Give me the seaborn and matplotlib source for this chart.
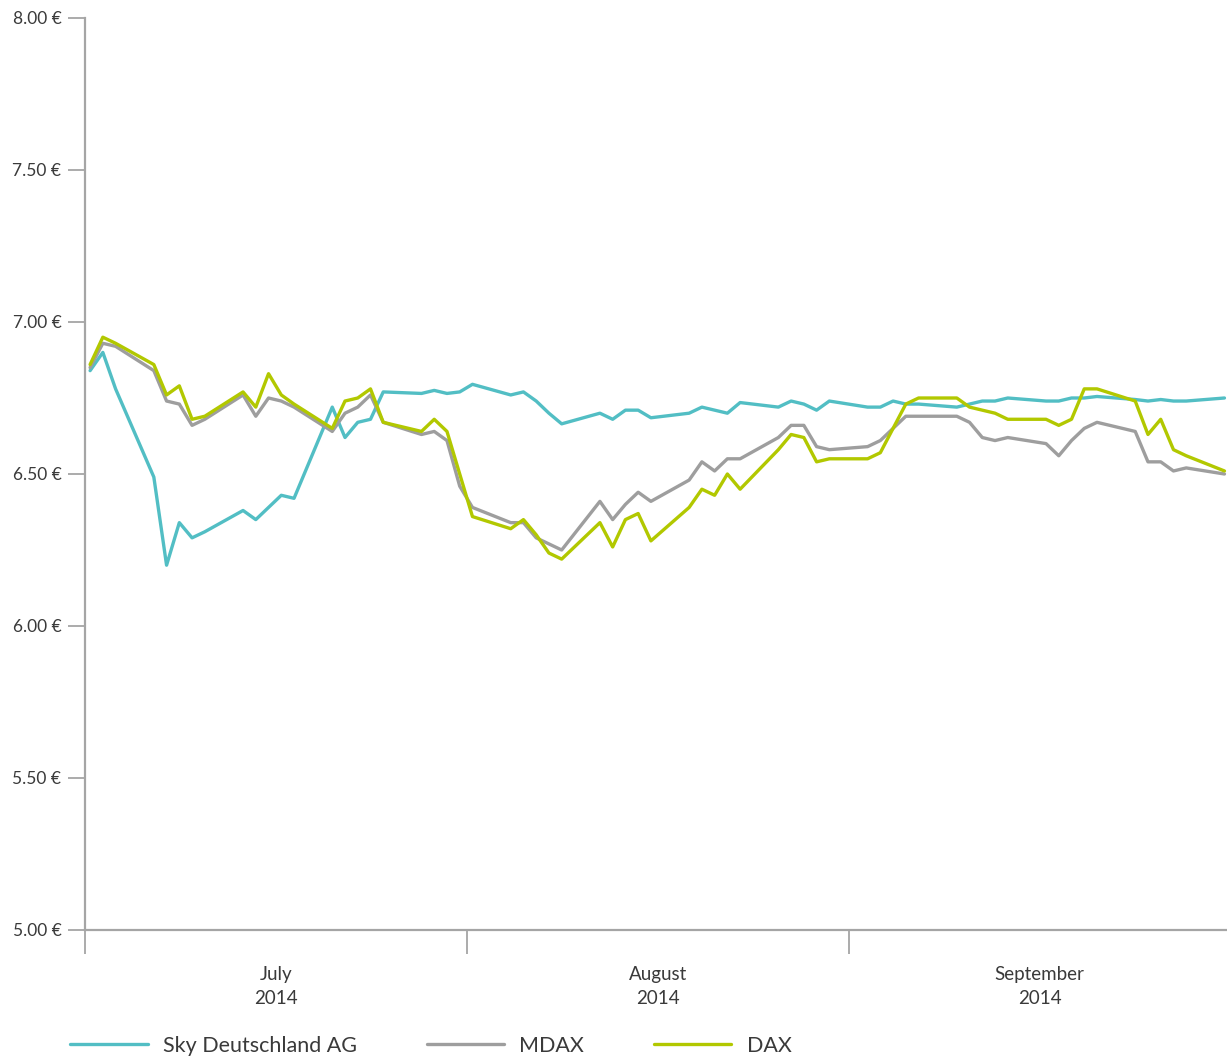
import pandas as pd
import seaborn as sns
import matplotlib.pyplot as plt
from matplotlib.ticker import FuncFormatter, FixedLocator

# trading days (day index from start of July 2014), weekends left out
days = [0, 1, 2, 5, 6, 7, 8, 9, 12, 13, 14, 15, 16, 19, 20, 21, 22, 23,
        26, 27, 28, 29, 30, 33, 34, 35, 36, 37, 40, 41, 42, 43, 44,
        47, 48, 49, 50, 51, 54, 55, 56, 57, 58, 61, 62, 63, 64, 65,
        68, 69, 70, 71, 72, 75, 76, 77, 78, 79, 82, 83, 84, 85, 86, 89]

sky = [6.84, 6.90, 6.78, 6.49, 6.20, 6.34, 6.29, 6.31,
       6.38, 6.35, 6.39, 6.43, 6.42,
       6.72, 6.62, 6.67, 6.68, 6.77,
       6.765, 6.775, 6.765, 6.77, 6.795,
       6.76, 6.77, 6.74, 6.70, 6.665,
       6.70, 6.68, 6.71, 6.71, 6.685,
       6.70, 6.72, 6.71, 6.70, 6.735,
       6.72, 6.74, 6.73, 6.71, 6.74,
       6.72, 6.72, 6.74, 6.73, 6.73,
       6.72, 6.73, 6.74, 6.74, 6.75,
       6.74, 6.74, 6.75, 6.75, 6.755,
       6.745, 6.74, 6.745, 6.74, 6.74, 6.75]

mdax = [6.85, 6.93, 6.92, 6.84, 6.74, 6.73, 6.66, 6.68,
        6.76, 6.69, 6.75, 6.74, 6.72,
        6.64, 6.70, 6.72, 6.76, 6.67,
        6.63, 6.64, 6.61, 6.46, 6.39,
        6.34, 6.34, 6.29, 6.27, 6.25,
        6.41, 6.35, 6.40, 6.44, 6.41,
        6.48, 6.54, 6.51, 6.55, 6.55,
        6.62, 6.66, 6.66, 6.59, 6.58,
        6.59, 6.61, 6.65, 6.69, 6.69,
        6.69, 6.67, 6.62, 6.61, 6.62,
        6.60, 6.56, 6.61, 6.65, 6.67,
        6.64, 6.54, 6.54, 6.51, 6.52, 6.50]

dax = [6.86, 6.95, 6.93, 6.86, 6.76, 6.79, 6.68, 6.69,
       6.77, 6.72, 6.83, 6.76, 6.73,
       6.65, 6.74, 6.75, 6.78, 6.67,
       6.64, 6.68, 6.64, 6.50, 6.36,
       6.32, 6.35, 6.30, 6.24, 6.22,
       6.34, 6.26, 6.35, 6.37, 6.28,
       6.39, 6.45, 6.43, 6.50, 6.45,
       6.58, 6.63, 6.62, 6.54, 6.55,
       6.55, 6.57, 6.65, 6.73, 6.75,
       6.75, 6.72, 6.71, 6.70, 6.68,
       6.68, 6.66, 6.68, 6.78, 6.78,
       6.74, 6.63, 6.68, 6.58, 6.56, 6.51]

series_names = ['Sky Deutschland AG', 'MDAX', 'DAX']
colors = ['#52BEC4', '#9E9E9E', '#B2C800']
month_labels = ['July\n2014', 'August\n2014', 'September\n2014']
y_ticks = [5.0, 5.5, 6.0, 6.5, 7.0, 7.5, 8.0]

df = pd.DataFrame({
    'day': days * 3,
    'price': sky + mdax + dax,
    'series': [n for n in series_names for _ in days],
})

sns.set_style('white')
plt.rcParams['font.family'] = ['Lato', 'DejaVu Sans']
text_col = '#3a3a3a'

fig = plt.figure(figsize=(12.27, 10.56), dpi=100)
ax = fig.add_axes([85 / 1227, 1 - 930 / 1056, 1 - 85 / 1227, (930 - 18) / 1056])

sns.lineplot(data=df, x='day', y='price', hue='series', hue_order=series_names,
             palette=colors, linewidth=2.4, ax=ax, estimator=None, sort=False)

axis_grey = '#A5A5A5'
ax.set_xlim(-0.4, 89.2)
ax.set_ylim(5, 8)
ax.set_xlabel('')
ax.set_ylabel('')
for s in ['top', 'right']:
    ax.spines[s].set_visible(False)
for s in ['left', 'bottom']:
    ax.spines[s].set_color(axis_grey)
    ax.spines[s].set_linewidth(1.6)

ax.yaxis.set_major_locator(FixedLocator(y_ticks))
ax.yaxis.set_major_formatter(FuncFormatter(lambda v, p: f'{v:.2f} €'))
ax.tick_params(axis='y', direction='out', length=12, width=1.3, color=axis_grey,
               pad=5, labelsize=12.5, labelcolor=text_col, left=True)

# month boundaries as major ticks, month names centred as minor labels
ax.xaxis.set_major_locator(FixedLocator([-0.39, 29.57, 59.53]))
ax.xaxis.set_major_formatter(FuncFormatter(lambda v, p: ''))
ax.xaxis.set_minor_locator(FixedLocator([14.59, 44.55, 74.5]))
ax.set_xticklabels(month_labels, minor=True)
ax.tick_params(axis='x', which='major', direction='out', length=17, width=1.3,
               color=axis_grey, bottom=True)
ax.tick_params(axis='x', which='minor', length=0, pad=26, labelsize=13.5,
               labelcolor=text_col)
for t in ax.xaxis.get_minorticklabels():
    t.set_linespacing(1.5)
    t.set_ha('center')

handles, labels = ax.get_legend_handles_labels()
ax.get_legend().remove()
leg = fig.legend(handles, labels, loc='center left', bbox_to_anchor=(70 / 1227, 10 / 1056),
                 ncol=3, frameon=False, fontsize=15.5, handlelength=3.6, handletextpad=0.7,
                 columnspacing=3.25, borderpad=0, borderaxespad=0)
for t in leg.get_texts():
    t.set_color(text_col)

fig.savefig('out.png', dpi=100)
